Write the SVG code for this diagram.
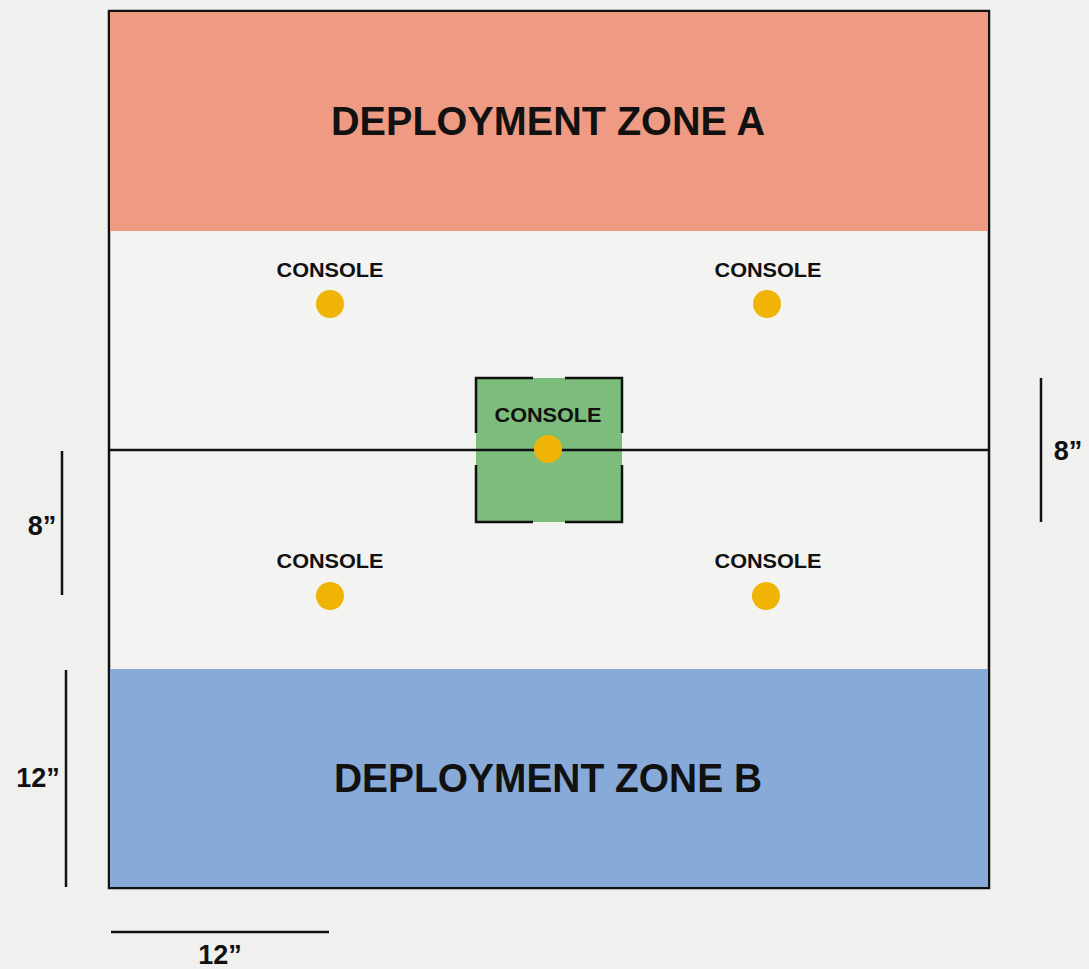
<svg xmlns="http://www.w3.org/2000/svg" width="1089" height="969" viewBox="0 0 1089 969">
<style>
.lbl{font-family:"Liberation Sans",Arial,sans-serif;font-weight:bold;fill:#111;text-anchor:middle}
.zone{font-size:40px}
.con{font-size:20px}
.dim{font-size:27px}
.dot{fill:#f0b405}
.ln{stroke:#111;stroke-width:2.5;fill:none}
</style>
<rect width="1089" height="969" fill="#f0f0ef"/>
<g id="board">
<rect x="109" y="11" width="880" height="877" fill="#f3f3f2" stroke="#111" stroke-width="2.5"/>
</g>
<g id="zoneA">
<rect x="110" y="12" width="878" height="219" fill="#ef9a83"/>
<text class="lbl zone" x="548" y="135" textLength="434" lengthAdjust="spacingAndGlyphs">DEPLOYMENT ZONE A</text>
</g>
<g id="zoneB">
<rect x="110" y="669" width="878" height="218" fill="#87aad8"/>
<text class="lbl zone" x="548" y="792" textLength="428" lengthAdjust="spacingAndGlyphs">DEPLOYMENT ZONE B</text>
</g>
<g id="centerZone">
<rect x="476" y="378" width="146" height="144" fill="#7dbd7b"/>
<path class="ln" stroke-width="3" d="M476,433 V378 H533 M565,378 H622 V433 M622,465 V522 H565 M533,522 H476 V465"/>
</g>
<g id="connectors">
<line class="ln" x1="109" y1="450" x2="989" y2="450"/>
</g>
<g id="console1">
<text class="lbl con" x="330" y="277" textLength="107" lengthAdjust="spacingAndGlyphs">CONSOLE</text>
<circle class="dot" cx="330" cy="304" r="14"/>
</g>
<g id="console2">
<text class="lbl con" x="768" y="277" textLength="107" lengthAdjust="spacingAndGlyphs">CONSOLE</text>
<circle class="dot" cx="767" cy="304" r="14"/>
</g>
<g id="console3">
<text class="lbl con" x="548" y="422" textLength="107" lengthAdjust="spacingAndGlyphs">CONSOLE</text>
<circle class="dot" cx="548" cy="449" r="14"/>
</g>
<g id="console4">
<text class="lbl con" x="330" y="568" textLength="107" lengthAdjust="spacingAndGlyphs">CONSOLE</text>
<circle class="dot" cx="330" cy="596" r="14"/>
</g>
<g id="console5">
<text class="lbl con" x="768" y="568" textLength="107" lengthAdjust="spacingAndGlyphs">CONSOLE</text>
<circle class="dot" cx="766" cy="596" r="14"/>
</g>
<g id="dimLeft8">
<line class="ln" x1="62" y1="451" x2="62" y2="595"/>
<text class="lbl dim" x="42" y="535">8”</text>
</g>
<g id="dimLeft12">
<line class="ln" x1="66" y1="670" x2="66" y2="887"/>
<text class="lbl dim" x="38" y="787">12”</text>
</g>
<g id="dimRight8">
<line class="ln" x1="1041" y1="378" x2="1041" y2="522"/>
<text class="lbl dim" x="1068" y="460">8”</text>
</g>
<g id="dimBottom12">
<line class="ln" x1="111" y1="932" x2="329" y2="932"/>
<text class="lbl dim" x="220" y="964">12”</text>
</g>
</svg>
